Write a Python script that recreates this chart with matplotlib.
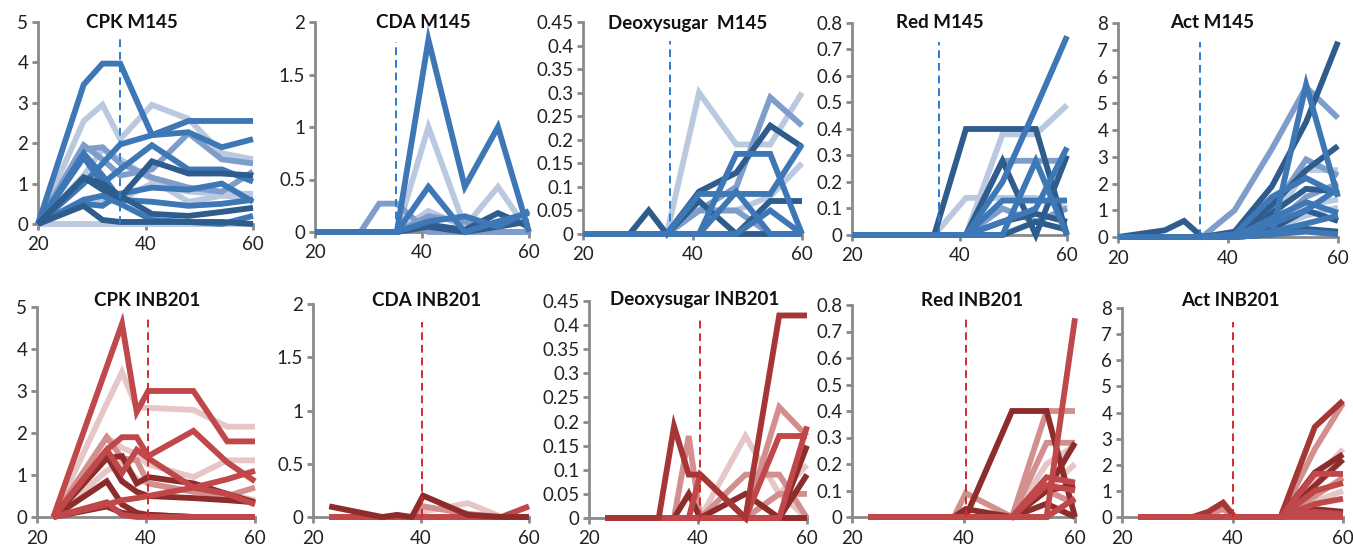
import matplotlib
matplotlib.use("Agg")
import matplotlib.pyplot as plt
from matplotlib.ticker import FuncFormatter, MultipleLocator

plt.rcParams['font.family'] = ['Lato', 'DejaVu Sans']

W, H = 1353, 547

# ---------------- data ----------------
x_m145 = [20, 28.5, 32, 35.3, 41.2, 48, 54.2, 60]
x_inb = [23, 32.8, 35.6, 38.3, 40.4, 48.7, 54.9, 60]

cpk_m145 = [
    [0, 0, 0, 0, 0, 0, 0, 0],
    [0, 2.55, 2.95, 2.1, 2.95, 2.6, 1.75, 1.6],
    [0, 1.2, 1.85, 1.6, 1.1, 0.55, 0.7, 0.65],
    [0, 0.6, 0.55, 0.6, 1.0, 0.8, 0.75, 0.75],
    [0, 1.85, 1.9, 1.5, 1.15, 0.9, 0.8, 1.3],
    [0, 1.95, 1.6, 1.2, 1.35, 2.25, 1.6, 1.5],
    [0, 3.45, 3.97, 3.97, 2.2, 2.27, 1.9, 2.1],
    [0, 1.0, 1.5, 1.97, 2.2, 2.55, 2.55, 2.55],
    [0, 1.65, 1.0, 1.35, 1.95, 1.35, 1.35, 1.05],
    [0, 1.75, 1.2, 0.6, 0.55, 0.45, 0.5, 0.6],
    [0, 0.5, 0.45, 0.75, 0.9, 0.85, 1.0, 0.55],
    [0, 0.6, 0.7, 0.5, 0.1, 0.05, 0.0, 0.2],
    [0, 1.15, 0.85, 0.65, 1.55, 1.25, 1.25, 1.2],
    [0, 1.15, 1.0, 0.7, 0.25, 0.2, 0.3, 0.4],
    [0, 0.45, 0.1, 0.05, 0.05, 0.05, 0.05, 0.0],
]
cpk_m145_shade = ['light', 'light', 'light', 'light', 'medlight', 'medlight', 'mid', 'mid',
                  'mid', 'mid', 'mid', 'mid', 'dark', 'dark', 'dark']

cda_m145 = [
    [0, 0, 0, 0, 1.0, 0.05, 0.43, 0.0],
    [0, 0, 0, 0, 0.2, 0.05, 0.1, 0.1],
    [0, 0, 0.27, 0.27, 0.0, 0.0, 0.0, 0.0],
    [0, 0, 0, 0, 0.15, 0.1, 0.0, 0.0],
    [0, 0, 0, 0, 0.05, 0.0, 0.05, 0.1],
    [0, 0, 0, 0, 0.07, 0.02, 0.18, 0.05],
    [0, 0, 0, 0, 0.1, 0.15, 0.05, 0.2],
    [0, 0, 0, 0, 0.43, 0.0, 0.1, 0.18],
    [0, 0, 0, 0, 1.83, 0.43, 1.0, 0.0],
]
cda_m145_shade = ['light', 'light', 'medlight', 'medlight', 'dark', 'dark', 'mid', 'mid', 'mid']

deoxy_m145 = [
    [0, 0, 0, 0, 0.30, 0.19, 0.19, 0.30],
    [0, 0, 0, 0, 0.05, 0.05, 0.08, 0.15],
    [0, 0, 0, 0, 0.05, 0.1, 0.29, 0.23],
    [0, 0, 0, 0, 0.05, 0.05, 0.0, 0.0],
    [0, 0, 0.05, 0, 0.09, 0.13, 0.23, 0.185],
    [0, 0, 0, 0, 0.07, 0.0, 0.0, 0.0],
    [0, 0, 0, 0, 0, 0, 0.07, 0.07],
    [0, 0, 0, 0, 0.085, 0.085, 0.085, 0.19],
    [0, 0, 0, 0, 0, 0.09, 0.0, 0.0],
    [0, 0, 0, 0, 0, 0, 0.05, 0.0],
    [0, 0, 0, 0, 0, 0.17, 0.17, 0],
]
deoxy_m145_shade = ['light', 'light', 'medlight', 'medlight', 'dark', 'dark', 'dark',
                    'mid', 'mid', 'mid', 'mid']

red_m145 = [
    [0, 0, 0, 0, 0.14, 0.14, 0.14, 0.1],
    [0, 0, 0, 0, 0.0, 0.38, 0.38, 0.49],
    [0, 0, 0, 0, 0, 0.28, 0.28, 0.28],
    [0, 0, 0, 0, 0, 0.1, 0.05, 0.1],
    [0, 0, 0, 0, 0.4, 0.4, 0.4, 0.0],
    [0, 0, 0, 0, 0, 0.28, 0.0, 0.3],
    [0, 0, 0, 0, 0, 0.05, 0.08, 0.05],
    [0, 0, 0, 0, 0, 0, 0.05, 0.02],
    [0, 0, 0, 0, 0, 0.13, 0.13, 0.13],
    [0, 0, 0, 0, 0, 0, 0.28, 0.0],
    [0, 0, 0, 0, 0, 0.05, 0.1, 0.33],
    [0, 0, 0, 0, 0, 0.2, 0.48, 0.75],
]
red_m145_shade = ['light', 'light', 'medlight', 'medlight', 'dark', 'dark', 'dark', 'dark',
                  'mid', 'mid', 'mid', 'mid']

act_m145 = [
    [0, 0, 0, 0, 0, 0.6, 2.5, 2.5],
    [0, 0, 0, 0, 0, 0.3, 0.8, 1.1],
    [0, 0, 0, 0, 0, 0.2, 1.2, 1.4],
    [0, 0, 0, 0, 1.0, 3.3, 5.6, 4.45],
    [0, 0, 0, 0, 0, 1.0, 2.9, 2.3],
    [0, 0, 0, 0, 0, 0.4, 1.5, 2.0],
    [0, 0.25, 0.6, 0, 0.2, 1.9, 4.3, 7.3],
    [0, 0, 0, 0, 0.1, 1.2, 2.5, 3.4],
    [0, 0, 0, 0, 0, 0.9, 1.8, 1.7],
    [0, 0, 0, 0, 0, 0.3, 1.0, 0.6],
    [0, 0, 0, 0, 0, 0.1, 0.3, 0.2],
    [0, 0, 0, 0, 0.1, 1.5, 2.2, 1.6],
    [0, 0, 0, 0, 0, 0.7, 1.3, 0.9],
    [0, 0, 0, 0, 0, 0.2, 0.5, 0.8],
    [0, 0, 0, 0, 0, 0.1, 0.2, 0.1],
    [0, 0, 0, 0, 0, 0.5, 1.0, 1.8],
    [0, 0, 0, 0, 0, 0.1, 5.7, 1.5],
]
act_m145_shade = ['light', 'light', 'light', 'medlight', 'medlight', 'medlight', 'dark', 'dark',
                  'dark', 'dark', 'dark', 'mid', 'mid', 'mid', 'mid', 'mid', 'mid']

cpk_inb = [
    [0, 2.7, 3.45, 2.6, 2.6, 2.55, 2.15, 2.15],
    [0, 1.9, 1.65, 1.5, 1.25, 0.95, 1.35, 1.35],
    [0, 1.1, 1.3, 0.9, 0.8, 0.6, 0.55, 0.4],
    [0, 1.9, 1.4, 1.35, 0.8, 0.6, 0.5, 0.7],
    [0, 1.4, 1.45, 0.8, 0.95, 0.8, 0.55, 0.35],
    [0, 1.45, 0.85, 0.6, 0.5, 0.45, 0.4, 0.35],
    [0, 0.85, 0.3, 0.1, 0.05, 0.0, 0.0, 0.0],
    [0, 0.25, 0.1, 0.05, 0.05, 0.0, 0.0, 0.0],
    [0, 0.35, 0.05, 0.0, 0.0, 0.0, 0.0, 0.0],
    [0, 0.3, 0.4, 0.45, 0.5, 0.7, 0.55, 0.3],
    [0, 1.6, 1.05, 1.6, 1.4, 0.7, 0.9, 1.1],
    [0, 1.6, 1.9, 1.9, 1.45, 2.05, 1.3, 0.85],
    [0, 3.58, 4.6, 2.5, 3.0, 3.0, 1.8, 1.8],
]
cpk_inb_shade = ['light', 'light', 'light', 'medlight', 'dark', 'dark', 'dark', 'dark',
                 'mid', 'mid', 'mid', 'mid', 'mid']

cda_inb = [
    [0, 0, 0, 0, 0.05, 0.13, 0.0, 0.0],
    [0, 0, 0, 0, 0.1, 0.03, 0.0, 0.0],
    [0, 0, 0, 0, 0, 0, 0, 0],
    [0, 0, 0, 0, 0.0, 0.0, 0.0, 0.1],
    [0.1, 0.0, 0.02, 0.0, 0.2, 0.02, 0.0, 0.0],
]
cda_inb_shade = ['light', 'medlight', 'mid', 'mid', 'dark']

deoxy_inb = [
    [0, 0, 0, 0, 0.0, 0.17, 0.05, 0.0],
    [0, 0, 0, 0, 0, 0, 0.05, 0.11],
    [0, 0, 0, 0.17, 0.0, 0.0, 0.0, 0.0],
    [0, 0, 0, 0, 0.0, 0.09, 0.09, 0.0],
    [0, 0, 0, 0, 0, 0, 0.23, 0.17],
    [0, 0, 0, 0, 0, 0, 0.05, 0.05],
    [0, 0, 0, 0.05, 0.0, 0.05, 0.0, 0.0],
    [0, 0, 0, 0, 0, 0, 0.0, 0.15],
    [0, 0, 0, 0, 0, 0, 0.0, 0.09],
    [0, 0, 0, 0, 0, 0, 0.0, 0.19],
    [0, 0, 0, 0, 0.09, 0.0, 0.17, 0.17],
    [0, 0, 0.19, 0.09, 0.09, 0.0, 0.42, 0.42],
]
deoxy_inb_shade = ['light', 'light', 'medlight', 'medlight', 'medlight', 'medlight', 'dark',
                   'dark', 'dark', 'mid', 'mid', 'darkmid']

red_inb = [
    [0, 0, 0, 0, 0, 0.0, 0.2, 0.27],
    [0, 0, 0, 0, 0, 0, 0.1, 0.2],
    [0, 0, 0, 0, 0.09, 0.0, 0.4, 0.4],
    [0, 0, 0, 0, 0, 0.0, 0.28, 0.28],
    [0, 0, 0, 0, 0, 0, 0.1, 0.05],
    [0, 0, 0, 0, 0.0, 0.4, 0.4, 0.0],
    [0, 0, 0, 0, 0, 0, 0.1, 0.28],
    [0, 0, 0, 0, 0.03, 0.0, 0.1, 0.12],
    [0, 0, 0, 0, 0, 0, 0.05, 0.0],
    [0, 0, 0, 0, 0, 0, 0.15, 0.13],
    [0, 0, 0, 0, 0, 0, 0.12, 0.1],
    [0, 0, 0, 0, 0, 0, 0.0, 0.07],
    [0, 0, 0, 0, 0, 0.0, 0.0, 0.75],
]
red_inb_shade = ['light', 'light', 'medlight', 'medlight', 'medlight', 'dark', 'dark', 'dark',
                 'dark', 'mid', 'mid', 'mid', 'mid']

act_inb = [
    [0, 0, 0, 0, 0, 0, 1.4, 2.6],
    [0, 0, 0, 0, 0, 0, 0.6, 1.0],
    [0, 0, 0.1, 0.3, 0, 0, 2.6, 4.35],
    [0, 0, 0, 0, 0, 0, 0.8, 1.5],
    [0, 0, 0, 0, 0, 0, 1.7, 2.4],
    [0, 0, 0, 0, 0, 0, 1.2, 2.2],
    [0, 0, 0, 0, 0, 0, 0.3, 0.2],
    [0, 0, 0.2, 0.55, 0.0, 0.0, 3.45, 4.45],
    [0, 0, 0, 0, 0, 0, 1.65, 1.65],
    [0, 0, 0, 0, 0, 0, 1.0, 1.3],
    [0, 0, 0, 0, 0, 0, 0.5, 0.7],
    [0, 0, 0, 0, 0, 0, 0.2, 0.1],
    [0, 0, 0, 0, 0, 0, 0, 0],
]
act_inb_shade = ['light', 'light', 'medlight', 'medlight', 'dark', 'dark', 'dark', 'darkmid',
                 'mid', 'mid', 'mid', 'mid', 'mid']

titles_top = ['CPK M145', 'CDA M145', 'Deoxysugar  M145', 'Red M145', 'Act M145']
titles_bot = ['CPK INB201', 'CDA INB201', 'Deoxysugar INB201', 'Red INB201', 'Act INB201']
ymax = [5, 2, 0.45, 0.8, 8]
ystep = [1, 0.5, 0.05, 0.1, 1]
onset_top = [35.3, 35.1, 35.9, 36.2, 34.9]
onset_top_h = [4.63, 1.81, 0.41, 0.73, 7.29]
onset_bot = [40.4, 40.2, 40.4, 40.4, 40.1]
onset_bot_h = [4.81, 1.83, 0.415, 0.75, 7.46]

blue = {'dark': '#2E5C8C', 'darkmid': '#2E5C8C', 'mid': '#3E77B6', 'medlight': '#7F9DCB', 'light': '#BAC9E0'}
red = {'dark': '#8E2B2B', 'darkmid': '#A63636', 'mid': '#C0474A', 'medlight': '#D38E8E', 'light': '#E6C6C6'}

# ---------------- layout (pixel boxes: left, right, y of 0, y of max) ----------------
boxes_top = [(38, 253, 224, 22), (315, 529, 232, 22), (583, 802, 234, 22),
             (852, 1067, 235, 23), (1118, 1338, 237, 23)]
boxes_bot = [(37, 255, 517, 307), (313, 529, 517, 304), (589, 807, 518, 301),
             (852, 1075, 517, 305), (1122, 1343, 517, 308)]
title_top_xy = [(132, 23), (423, 22), (688, 23), (940, 23), (1212, 23)]
title_bot_xy = [(147, 300), (427, 300), (695, 300), (972, 300), (1230, 300)]

fig = plt.figure(figsize=(W / 100, H / 100), dpi=100)
fig.patch.set_facecolor('white')

gray = '#8A8A8A'
fmt = FuncFormatter(lambda v, p: f'{v:g}')


def make_panel(box, series, shades, xs, pal, ym, ys, onset, onset_h, dash_color, title, txy):
    L, R, B, T = box
    ax = fig.add_axes([L / W, 1 - B / H, (R - L) / W, (B - T) / H])
    for vals, sh in zip(series, shades):
        ax.plot(xs, vals, color=pal[sh], lw=4.2, solid_joinstyle='miter',
                solid_capstyle='butt', clip_on=False, zorder=2)
    ax.plot([onset, onset], [0, onset_h], color=dash_color, lw=1.4,
            dashes=(4, 2.5), zorder=3, clip_on=False)
    ax.set_xlim(20, 60)
    ax.set_ylim(0, ym)
    ax.set_xticks([20, 40, 60])
    ax.yaxis.set_major_locator(MultipleLocator(ys))
    ax.yaxis.set_major_formatter(fmt)
    for s in ['top', 'right']:
        ax.spines[s].set_visible(False)
    for s in ['left', 'bottom']:
        ax.spines[s].set_color(gray)
        ax.spines[s].set_linewidth(2.0)
        ax.spines[s].set_zorder(1)
    ax.tick_params(axis='both', colors=gray, width=2.0, length=4, labelcolor='#222222',
                   labelsize=13.5)
    ax.tick_params(axis='y', pad=3)
    ax.tick_params(axis='x', pad=5)
    ax.set_facecolor('none')
    fig.text(txy[0] / W, 1 - txy[1] / H, title, ha='center', va='center',
             fontsize=13.5, fontweight='bold', color='#111111')
    return ax


top_data = [(cpk_m145, cpk_m145_shade), (cda_m145, cda_m145_shade), (deoxy_m145, deoxy_m145_shade),
            (red_m145, red_m145_shade), (act_m145, act_m145_shade)]
bot_data = [(cpk_inb, cpk_inb_shade), (cda_inb, cda_inb_shade), (deoxy_inb, deoxy_inb_shade),
            (red_inb, red_inb_shade), (act_inb, act_inb_shade)]

for i in range(5):
    make_panel(boxes_top[i], top_data[i][0], top_data[i][1], x_m145, blue, ymax[i], ystep[i],
               onset_top[i], onset_top_h[i], '#2B7BD0', titles_top[i], title_top_xy[i])
    make_panel(boxes_bot[i], bot_data[i][0], bot_data[i][1], x_inb, red, ymax[i], ystep[i],
               onset_bot[i], onset_bot_h[i], '#D42A2E', titles_bot[i], title_bot_xy[i])

fig.savefig('out.png', dpi=100)
